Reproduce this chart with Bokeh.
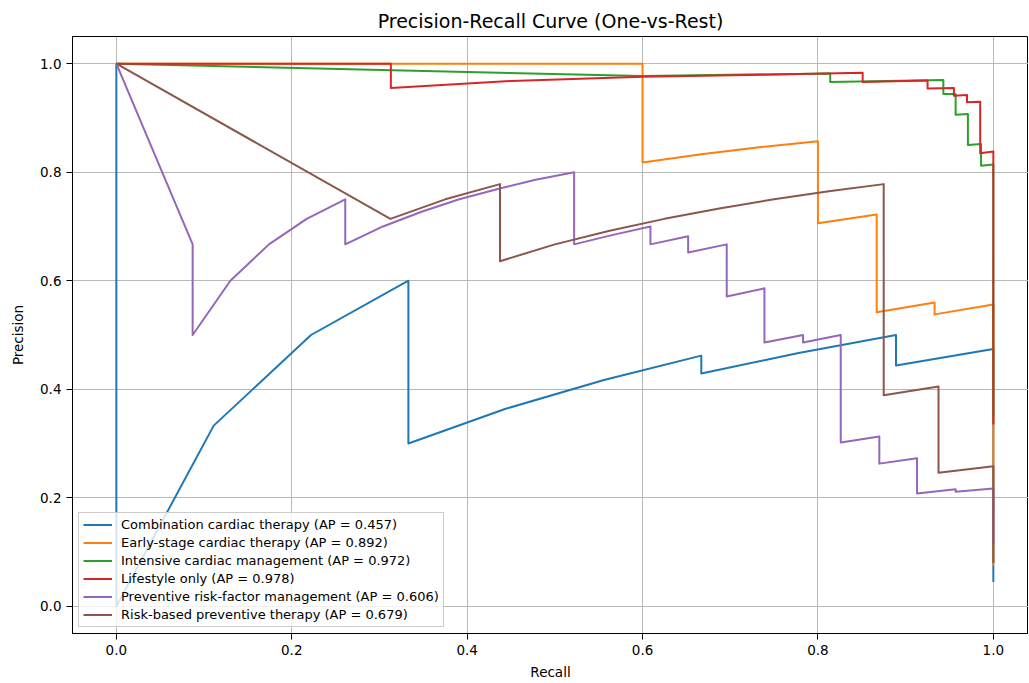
from bokeh.plotting import figure
from bokeh.models import Range1d, FixedTicker, PrintfTickFormatter
from bokeh.embed import file_html
from bokeh.resources import INLINE

# ---- data ----
class_names = [
    "Combination cardiac therapy",
    "Early-stage cardiac therapy",
    "Intensive cardiac management",
    "Lifestyle only",
    "Preventive risk-factor management",
    "Risk-based preventive therapy",
]
ap_values = [0.457, 0.892, 0.972, 0.978, 0.606, 0.679]

recall_combination = [0, 0, 0.111, 0.222, 0.333, 0.333, 0.444, 0.556, 0.667, 0.667, 0.778, 0.889, 0.889, 1.0, 1.0]
precision_combination = [1.0, 0.0, 0.333, 0.5, 0.6, 0.3, 0.364, 0.417, 0.462, 0.429, 0.467, 0.5, 0.444, 0.474, 0.045]

recall_early = [0, 0.6, 0.6, 0.667, 0.733, 0.8, 0.8, 0.867, 0.867, 0.933, 0.933, 1.0, 1.0]
precision_early = [1.0, 1.0, 0.818, 0.833, 0.846, 0.857, 0.706, 0.722, 0.542, 0.56, 0.538, 0.556, 0.075]

recall_intensive = [0, 0.6, 0.814, 0.814, 0.943, 0.943, 0.957, 0.957, 0.971, 0.971, 0.986, 0.986, 1.0, 1.0]
precision_intensive = [1.0, 0.977, 0.982, 0.966, 0.970, 0.944, 0.944, 0.906, 0.907, 0.850, 0.852, 0.812, 0.814, 0.35]

recall_lifestyle = [0, 0.313, 0.313, 0.45, 0.6, 0.75, 0.851, 0.851, 0.925, 0.925, 0.955, 0.955, 0.970, 0.970, 0.985, 0.985, 1.0, 1.0]
precision_lifestyle = [1.0, 1.0, 0.955, 0.968, 0.976, 0.980, 0.983, 0.966, 0.969, 0.954, 0.955, 0.941, 0.942, 0.929, 0.930, 0.835, 0.838, 0.335]

recall_preventive = [0, 0.087, 0.087, 0.130, 0.174, 0.217, 0.261, 0.261, 0.304, 0.348, 0.391, 0.435, 0.478, 0.522, 0.522,
                     0.565, 0.609, 0.609, 0.652, 0.652, 0.696, 0.696, 0.739, 0.739, 0.783, 0.783, 0.826, 0.826,
                     0.870, 0.870, 0.913, 0.913, 0.957, 0.957, 1.0, 1.0]
precision_preventive = [1.0, 0.667, 0.5, 0.6, 0.667, 0.714, 0.75, 0.667, 0.7, 0.727, 0.75, 0.769, 0.786, 0.8, 0.667,
                        0.684, 0.7, 0.667, 0.682, 0.652, 0.667, 0.571, 0.586, 0.486, 0.5, 0.486, 0.5, 0.302,
                        0.313, 0.263, 0.273, 0.208, 0.216, 0.211, 0.217, 0.115]

recall_riskbased = [0, 0.3125, 0.375, 0.4375, 0.4375, 0.5, 0.5625, 0.625, 0.6875, 0.75, 0.8125, 0.875, 0.875, 0.9375, 0.9375, 1.0, 1.0]
precision_riskbased = [1.0, 0.714, 0.75, 0.778, 0.636, 0.667, 0.692, 0.714, 0.733, 0.75, 0.765, 0.778, 0.389, 0.405, 0.246, 0.258, 0.08]

recalls = [recall_combination, recall_early, recall_intensive, recall_lifestyle, recall_preventive, recall_riskbased]
precisions = [precision_combination, precision_early, precision_intensive, precision_lifestyle, precision_preventive, precision_riskbased]
colors = ["#1f77b4", "#ff7f0e", "#2ca02c", "#d62728", "#9467bd", "#8c564b"]
ticks = [0.0, 0.2, 0.4, 0.6, 0.8, 1.0]

FONT = "DejaVu Sans"

p = figure(
    frame_width=956, frame_height=597,
    min_border_left=72, min_border_right=0, min_border_top=36, min_border_bottom=49,
    x_range=Range1d(-0.05, 1.0401), y_range=Range1d(-0.05, 1.05),
    output_backend="svg", toolbar_location=None,
    title="Precision-Recall Curve (One-vs-Rest)",
)
p.title.align = "center"
p.title.text_font = FONT
p.title.text_font_size = "19px"
p.title.text_font_style = "normal"
p.title.text_color = "#000000"
p.title.standoff = 9

p.outline_line_color = "#000000"
p.outline_line_width = 1
p.outline_line_alpha = 1

for ax in (p.xaxis[0], p.yaxis[0]):
    ax.ticker = FixedTicker(ticks=ticks)
    ax.formatter = PrintfTickFormatter(format="%.1f")
    ax.major_label_text_font = FONT
    ax.major_label_text_font_size = "13.5px"
    ax.major_label_text_color = "#000000"
    ax.axis_label_text_font = FONT
    ax.axis_label_text_font_size = "13.5px"
    ax.axis_label_text_font_style = "normal"
    ax.axis_label_text_color = "#000000"
    ax.axis_line_color = "#000000"
    ax.major_tick_line_color = "#000000"
    ax.major_tick_out = 6
    ax.major_tick_in = 0
    ax.minor_tick_line_color = None
    ax.major_label_standoff = 5

p.xaxis.axis_label = "Recall"
p.yaxis.axis_label = "Precision"
p.xaxis.axis_label_standoff = 6
p.yaxis.axis_label_standoff = 11

for g in (p.xgrid[0], p.ygrid[0]):
    g.ticker = FixedTicker(ticks=ticks)
    g.grid_line_color = "#b8b8b8"
    g.grid_line_width = 1

for name, ap, r, pr, c in zip(class_names, ap_values, recalls, precisions, colors):
    p.line(r, pr, line_color=c, line_width=2, line_join="round",
           legend_label=f"{name} (AP = {ap:.3f})")

lg = p.legend[0]
lg.location = "bottom_left"
lg.margin = 6
lg.padding = 4
lg.spacing = 3
lg.label_height = 15
lg.glyph_height = 15
lg.glyph_width = 29
lg.label_standoff = 9
lg.label_text_font = FONT
lg.label_text_font_size = "13px"
lg.label_text_color = "#000000"
lg.background_fill_color = "#ffffff"
lg.background_fill_alpha = 0.8
lg.border_line_color = "#cccccc"
lg.border_line_alpha = 1
lg.border_line_width = 1

open("out.html", "w").write(file_html(p, INLINE))
